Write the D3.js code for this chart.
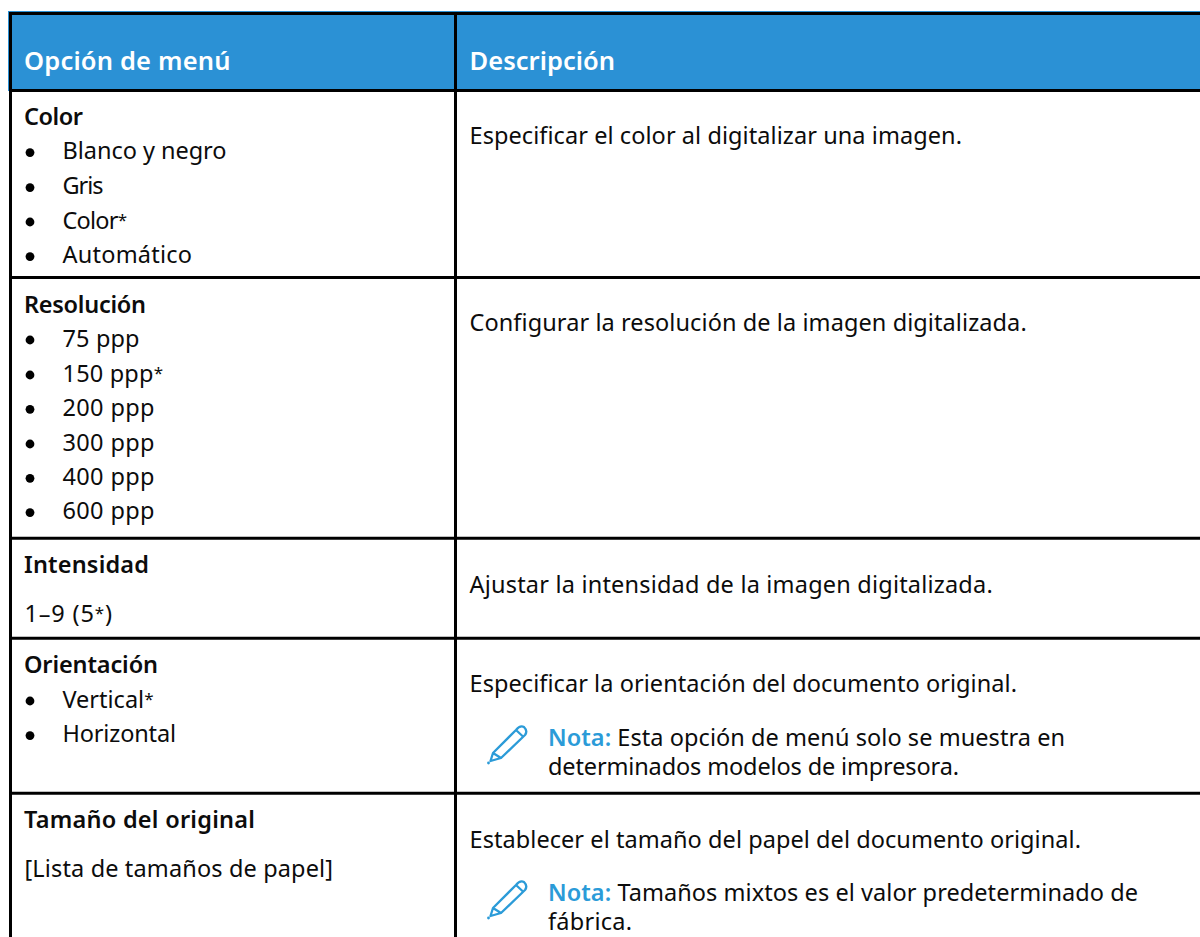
<!DOCTYPE html>
<html><head><meta charset="utf-8">
<script src="https://cdn.jsdelivr.net/npm/d3@7"></script>
<style>html,body{margin:0;padding:0;background:#fff;overflow:hidden}svg{display:block}text{font-family:"Noto Sans",sans-serif;font-size:23.5px;fill:#0c0c0c;white-space:pre}</style>
</head><body><svg id="c" width="1200" height="937"></svg>
<script>
// Content
const headers=["Opción de menú","Descripción"];
const rowNames=["Color","Resolución","Intensidad","Orientación","Tamaño del original"];
const colorOpts=["Blanco y negro","Gris","Color*","Automático"];
const resOpts=["75 ppp","150 ppp*","200 ppp","300 ppp","400 ppp","600 ppp"];
const orientOpts=["Vertical*","Horizontal"];
const plainLines=["1–9 (5*)","[Lista de tamaños de papel]"];
const descs=["Especificar el color al digitalizar una imagen.",
 "Configurar la resolución de la imagen digitalizada.",
 "Ajustar la intensidad de la imagen digitalizada.",
 "Especificar la orientación del documento original.",
 "Establecer el tamaño del papel del documento original."];
const noteLabel="Nota:";
const noteFirst=[" Esta opción de menú solo se muestra en"," Tamaños mixtos es el valor predeterminado de"];
const noteSecond=["determinados modelos de impresora.","fábrica."];

// Layout (kept apart from the content)
const headerEnds=[230.5,615];
const nameY=[125,312.7,573.3,673.3,828.3], nameEnds=[83,146,149,158,255];
const colorY=[159.3,194.3,228.7,263.3], colorEnds=[226.5,103.5,127,192];
const resY=[346.7,381.7,416,450.7,485,519.3], resEnds=[139.5,163,154.5,154.5,154.5,154.5];
const orientY=[707.7,742.3], orientEnds=[153.5,176];
const plainY=[621.7,876.7], plainEnds=[112,333];
const descY=[144,330.7,592.7,692,848], descEnds=[962,1026.7,992.7,1017,1081];
const noteY=[746,901], note2Y=[775,930], noteEnds=[1065,1138], note2Ends=[959,632];
const rowLines=[277.5,538.3,638.3,793.3];

const svg=d3.select("#c");
const blue="#2b91d5", noteBlue="#2b9bd8";
svg.append("rect").attr("x",8).attr("y",11).attr("width",1192).attr("height",80).attr("fill",blue);
const black=(x1,y1,x2,y2)=>svg.append("line").attr("x1",x1).attr("y1",y1).attr("x2",x2).attr("y2",y2).attr("stroke","#000").attr("stroke-width",3);
black(9,13.5,1200,13.5);black(9,90.5,1200,90.5);
rowLines.forEach(y=>black(9,y,1200,y));
black(10.5,12,10.5,937);black(455.5,12,455.5,937);

const fit=(sel,x,end)=>{const n=sel.node(),w=n.getComputedTextLength(),c=n.textContent.length;
  sel.style("letter-spacing",((end-x-w)/(c-1))+"px");return sel;};
const t=(x,y,s,end,o={})=>{const e=svg.append("text").attr("x",x).attr("y",y)
  .attr("font-weight",o.b?600:400).style("fill",o.f||null).style("font-size",o.z?o.z+"px":null);
  let raised=false;
  s.split(/(\*)/).filter(p=>p).forEach(p=>{
    const sp=e.append("tspan").text(p);
    if(p==="*"){sp.style("font-size","17px").attr("dy",-2.5);raised=true;}
    else if(raised){sp.attr("dy",2.5);raised=false;}
  });
  return fit(e,x,end);};

headers.forEach((h,i)=>t([24,469.5][i],70,h,headerEnds[i],{b:1,f:"#fff",z:25.5}));
rowNames.forEach((n,i)=>t(24,nameY[i],n,nameEnds[i],{b:1}));
[[colorOpts,colorY,colorEnds],[resOpts,resY,resEnds],[orientOpts,orientY,orientEnds]].forEach(([arr,ys,ends])=>{
  svg.append("g").selectAll("circle").data(arr).join("circle")
    .attr("cx",30).attr("cy",(d,i)=>ys[i]-6.7).attr("r",4.4).attr("fill","#000");
  arr.forEach((d,i)=>t(62.5,ys[i],d,ends[i]));
});
plainLines.forEach((s,i)=>t(24.5,plainY[i],s,plainEnds[i]));
descs.forEach((s,i)=>t(469.5,descY[i],s,descEnds[i]));

const pencil="M3.5 36 L6 28 L29 5 Q33 0 37 2 Q41 6 38 10 L14 33 Z M6 28 L14 33 M29 5 L36.5 12";
noteFirst.forEach((a,i)=>{
  const y=noteY[i];
  const g=svg.append("g").attr("transform",`translate(487,${y-21})`);
  g.append("path").attr("d",pencil).attr("fill","none").attr("stroke",noteBlue).attr("stroke-width",2.3).attr("stroke-linejoin","round");
  g.append("circle").attr("cx",1.5).attr("cy",38).attr("r",1.4).attr("fill",noteBlue);
  const tx=svg.append("text").attr("x",548).attr("y",y);
  tx.append("tspan").text(noteLabel).attr("font-weight",600).style("fill",noteBlue);
  tx.append("tspan").text(a);
  fit(tx,548,noteEnds[i]);
  t(548,note2Y[i],noteSecond[i],note2Ends[i]);
});
</script></body></html>
